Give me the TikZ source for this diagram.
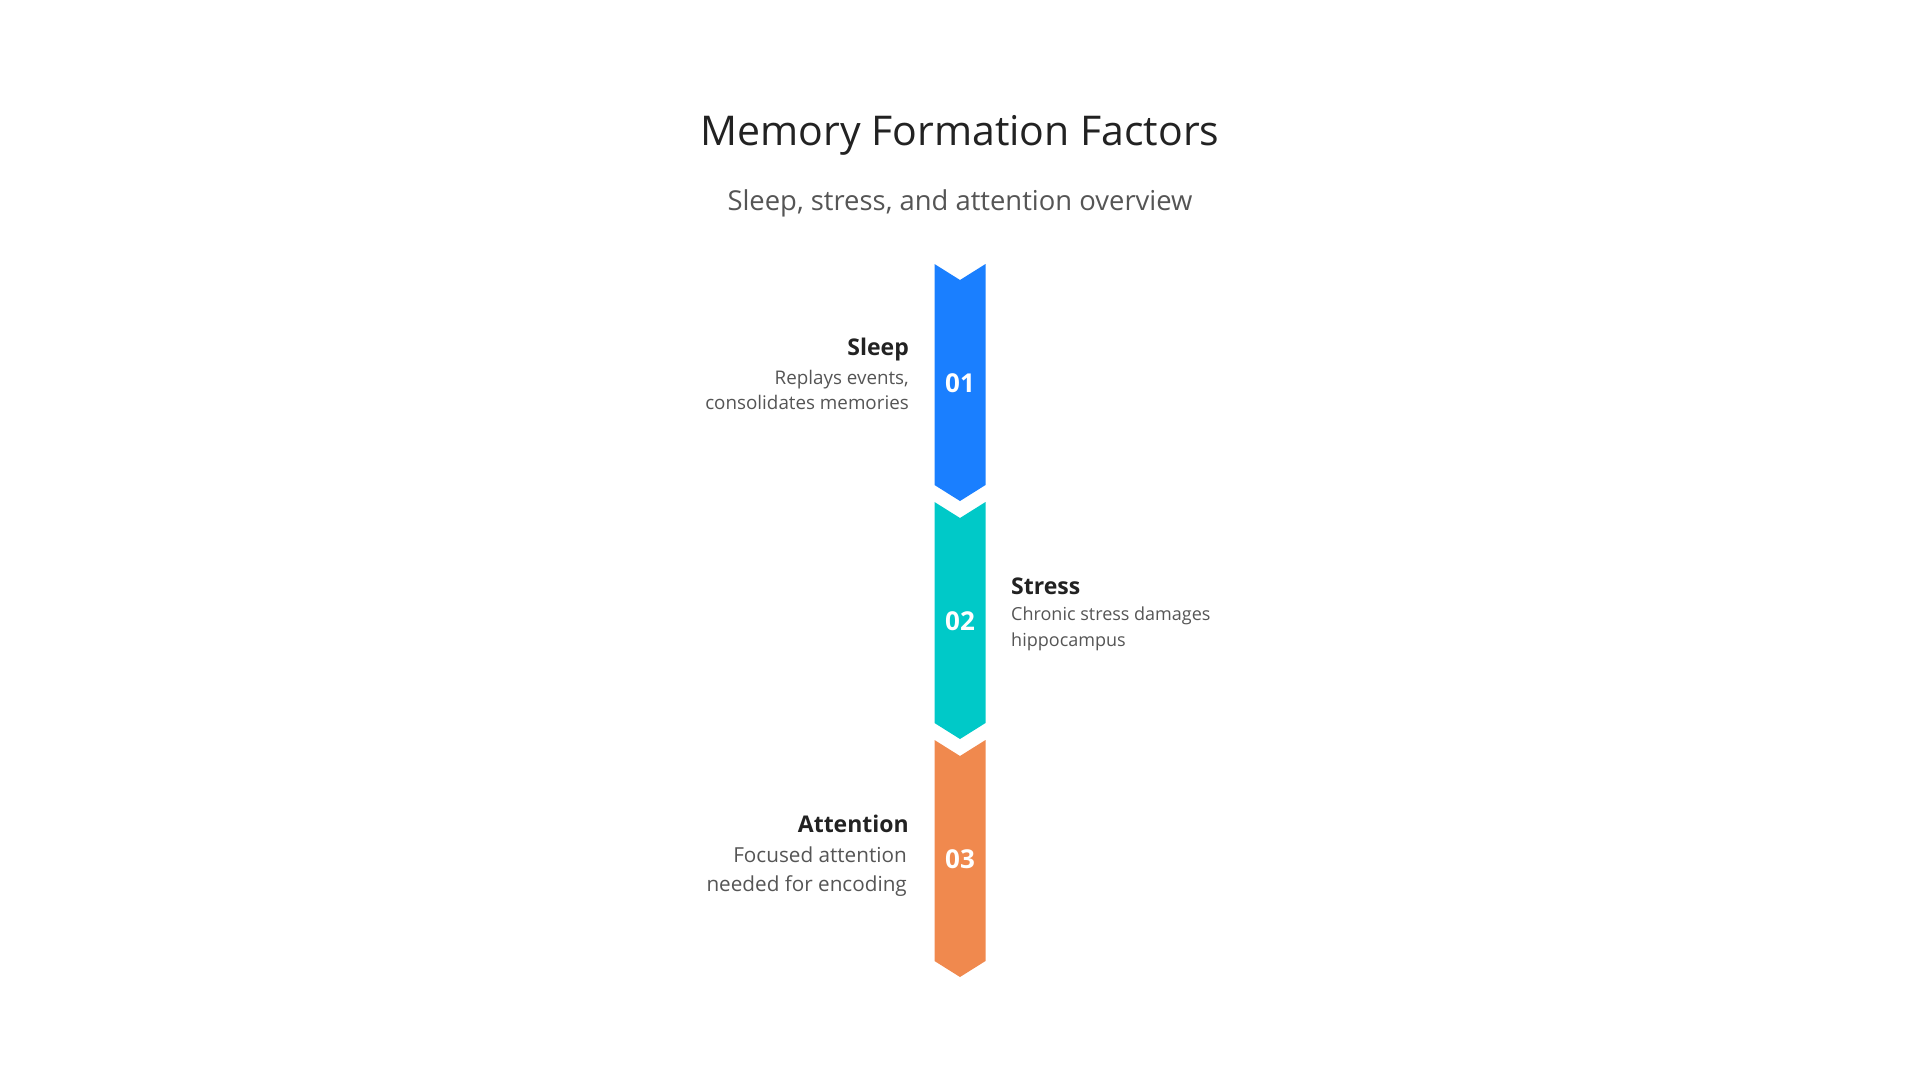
\documentclass[tikz,border=0pt]{standalone}
\usepackage{fontspec}
\setmainfont{Open Sans}
\usetikzlibrary{positioning}
\definecolor{sleepblue}{HTML}{1A7FFF}
\definecolor{stressteal}{HTML}{00C9C8}
\definecolor{attnorange}{HTML}{F0894E}
\definecolor{headgray}{HTML}{222222}
\definecolor{bodygray}{HTML}{555555}

\begin{document}
\begin{tikzpicture}[x=1pt, y=-1pt,
  head/.style={font=\bfseries\fontsize{23}{28}\selectfont, text=headgray, inner sep=0pt},
  body/.style={font=\fontsize{18}{25.5}\selectfont, text=bodygray, inner sep=0pt},
  num/.style={font=\bfseries\fontsize{26}{30}\selectfont, text=white, inner sep=0pt}]
  \useasboundingbox (0,0) rectangle (1920,1080);
  \node[font=\fontsize{41}{48}\selectfont, text=headgray, anchor=base] (title) at (960,145) {Memory Formation Factors};
  \node[font=\fontsize{27.4}{32}\selectfont, text=bodygray, anchor=base] (subtitle) at (960,210.5) {Sleep, stress, and attention overview};
  % chevron column
  \foreach \i/\t/\col/\num in {1/264/sleepblue/01, 2/502/stressteal/02, 3/740/attnorange/03}
  {
    \fill[\col] (934.5,\t) -- (960,\t+16) -- (985.5,\t) -- (985.5,\t+221)
      -- (960,\t+237) -- (934.5,\t+221) -- cycle;
    \node[num] (n\i) at (960,\t+119) {\num};
  }
  % labels
  \node[head, anchor=base east] (sleep) at (909,355) {Sleep};
  \node[body, align=right, anchor=north east, font=\fontsize{18.8}{25.5}\selectfont] (sleepd) at (909,370) {Replays events,\\consolidates memories};
  \node[head, anchor=base west] (stress) at (1011,594) {Stress};
  \node[body, align=left, anchor=north west] (stressd) at (1011,607) {Chronic stress damages\\hippocampus};
  \node[head, anchor=base east] (attn) at (909,832) {Attention};
  \node[body, align=right, anchor=north east, font=\fontsize{20.7}{28.5}\selectfont] (attnd) at (907,847) {Focused attention\\needed for encoding};
\end{tikzpicture}
\end{document}
